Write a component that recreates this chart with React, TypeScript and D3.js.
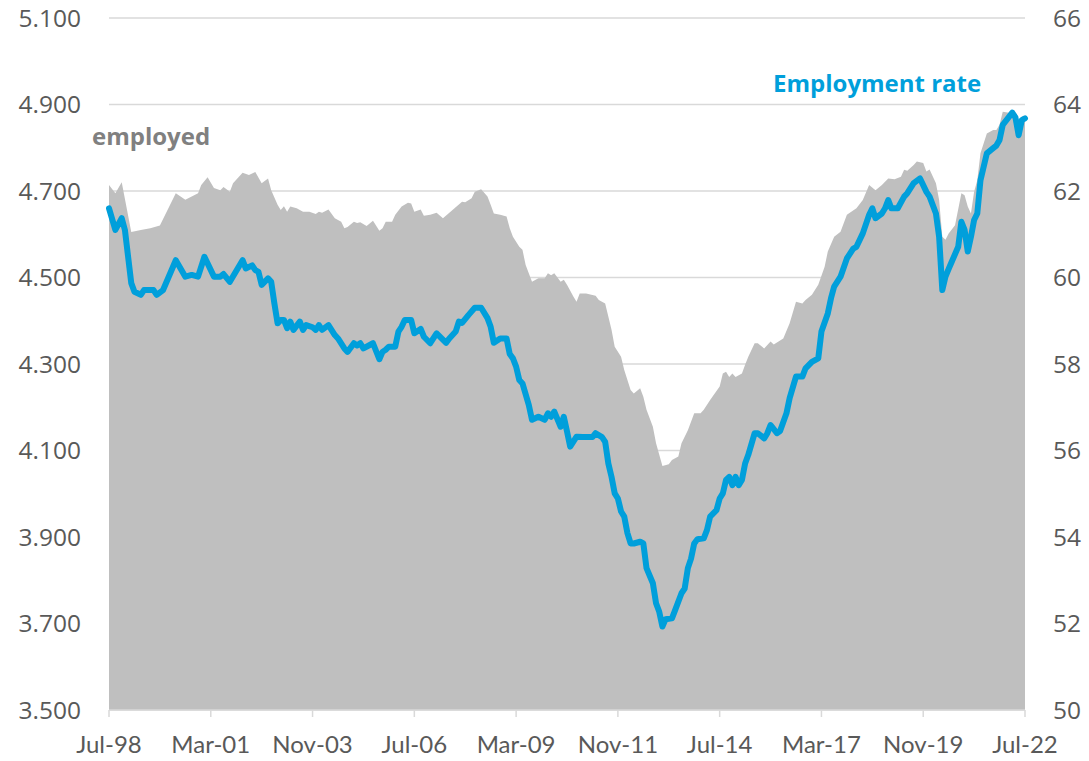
import React from "react";
import * as d3 from "d3";

// Month offsets from Jul-1998 (0) to Jul-2022 (288)
const employedMonths = [0,2,4,7,10,13,16,21,24,28,29,31,33,35,36,38,39,42,44,46,48,50,51,53,54,55,56,57,59,61,63,65,66,67,69,71,73,74,75,77,78,79,81,83,85,86,87,89,90,92,94,95,96,98,99,101,103,105,108,111,112,114,115,117,119,120,121,123,125,126,127,129,130,131,133,135,137,138,139,140,142,143,144,146,147,148,150,153,154,156,158,159,161,162,164,165,167,168,169,171,172,174,176,177,179,180,182,184,186,187,189,192,193,194,195,196,197,199,200,201,203,204,206,208,209,212,214,216,218,219,221,223,225,226,228,230,232,235,237,239,241,243,245,247,249,250,251,253,254,256,257,258,260,261,262,263,264,266,268,269,270,271,272,273,274,276,278,279,280,281,283,285,286,287,288];
const employedValues = [4.714,4.695,4.72,4.605,4.61,4.614,4.62,4.695,4.68,4.695,4.714,4.732,4.707,4.702,4.709,4.698,4.718,4.742,4.737,4.744,4.718,4.729,4.702,4.668,4.656,4.665,4.652,4.664,4.66,4.652,4.652,4.647,4.652,4.65,4.657,4.637,4.629,4.614,4.617,4.629,4.626,4.628,4.619,4.631,4.608,4.614,4.629,4.629,4.645,4.664,4.673,4.671,4.652,4.657,4.643,4.645,4.65,4.637,4.656,4.675,4.674,4.683,4.698,4.704,4.687,4.668,4.648,4.645,4.641,4.614,4.594,4.571,4.564,4.529,4.49,4.498,4.498,4.51,4.505,4.51,4.49,4.495,4.483,4.456,4.444,4.463,4.463,4.458,4.448,4.44,4.379,4.34,4.317,4.286,4.24,4.232,4.244,4.224,4.194,4.155,4.117,4.064,4.068,4.078,4.086,4.117,4.147,4.186,4.186,4.194,4.217,4.248,4.278,4.282,4.27,4.278,4.27,4.278,4.298,4.317,4.348,4.348,4.336,4.352,4.345,4.359,4.394,4.444,4.44,4.448,4.46,4.483,4.525,4.56,4.594,4.606,4.645,4.66,4.679,4.714,4.702,4.714,4.729,4.727,4.733,4.749,4.747,4.76,4.768,4.765,4.745,4.75,4.718,4.679,4.594,4.587,4.602,4.621,4.695,4.69,4.664,4.648,4.698,4.725,4.787,4.833,4.841,4.841,4.853,4.883,4.881,4.876,4.86,4.872,4.874];

const rateMonths = [0,2,4,5,7,8,10,11,14,15,17,21,24,26,28,30,33,35,36,38,42,43,45,46,47,48,50,51,52,53,54,55,56,57,58,60,61,62,64,65,66,67,69,71,72,74,75,77,78,79,80,83,85,86,87,88,90,91,92,93,95,96,98,99,101,103,106,107,109,110,111,113,115,117,119,120,121,123,125,126,127,128,129,130,132,133,135,137,138,139,140,142,143,144,145,147,149,152,153,155,156,157,158,159,160,161,162,163,164,165,167,168,169,171,172,173,174,175,177,178,180,181,182,183,184,185,187,188,189,191,192,193,194,195,196,197,198,199,200,201,203,204,206,207,208,210,211,213,214,216,218,219,221,223,224,226,227,228,230,232,234,235,237,239,240,241,243,244,245,246,248,250,251,253,255,257,258,260,261,262,263,264,265,267,268,269,270,271,272,273,274,276,278,279,280,281,284,285,286,287,288];
const rateValues = [61.6,61.1,61.37,61.1,59.87,59.67,59.6,59.71,59.71,59.6,59.71,60.4,60.02,60.06,60.02,60.48,60.02,60.02,60.08,59.9,60.4,60.21,60.28,60.17,60.13,59.83,59.98,59.9,59.4,58.94,59.02,59.02,58.83,58.98,58.79,58.98,58.79,58.9,58.85,58.79,58.9,58.79,58.9,58.67,58.59,58.36,58.28,58.48,58.43,58.48,58.36,58.48,58.11,58.28,58.33,58.4,58.4,58.75,58.86,59.02,59.02,58.71,58.81,58.63,58.48,58.71,58.49,58.59,58.75,58.98,58.95,59.13,59.3,59.3,59.06,58.86,58.49,58.59,58.59,58.23,58.13,57.94,57.63,57.55,57.05,56.71,56.78,56.71,56.86,56.78,56.9,56.55,56.78,56.44,56.09,56.32,56.31,56.31,56.4,56.31,56.2,55.7,55.39,55.01,54.89,54.59,54.47,54.09,53.85,53.85,53.89,53.85,53.28,52.93,52.47,52.27,51.93,52.1,52.12,52.31,52.7,52.81,53.28,53.5,53.85,53.95,53.97,54.16,54.47,54.62,54.89,55.01,55.32,55.39,55.2,55.39,55.2,55.32,55.7,55.9,56.4,56.4,56.28,56.4,56.59,56.4,56.45,56.86,57.21,57.71,57.71,57.9,58.05,58.13,58.75,59.17,59.52,59.79,60.02,60.44,60.67,60.71,61.02,61.45,61.6,61.37,61.48,61.6,61.79,61.6,61.6,61.87,61.95,62.18,62.29,61.98,61.87,61.48,60.94,59.71,60.02,60.2,60.37,60.71,61.29,61.1,60.6,60.94,61.33,61.48,62.25,62.87,62.99,63.05,63.18,63.53,63.81,63.7,63.29,63.64,63.68];

const xTickLabels = ["Jul-98","Mar-01","Nov-03","Jul-06","Mar-09","Nov-11","Jul-14","Mar-17","Nov-19","Jul-22"];
const xTickMonths = [0,32,64,96,128,160,192,224,256,288];
const leftTicks = [3.5,3.7,3.9,4.1,4.3,4.5,4.7,4.9,5.1];
const rightTicks = [50,52,54,56,58,60,62,64,66];

const W = 1089, H = 761;
const X0 = 109, X1 = 1025, Y0 = 710, Y1 = 18;

export default function App() {
  const x = d3.scaleLinear().domain([0, 288]).range([X0, X1]);
  const yL = d3.scaleLinear().domain([3.5, 5.1]).range([Y0, Y1]);
  const yR = d3.scaleLinear().domain([50, 66]).range([Y0, Y1]);

  const empData = employedMonths.map((m, i) => ({ m, v: employedValues[i] }));
  const rateData = rateMonths.map((m, i) => ({ m, v: rateValues[i] }));

  const area = d3.area<{ m: number; v: number }>()
    .x(d => x(d.m)).y0(yL(3.5)).y1(d => yL(d.v));
  const line = d3.line<{ m: number; v: number }>()
    .x(d => x(d.m)).y(d => yR(d.v));

  const tickFont = "'Open Sans', sans-serif";
  return (
    <svg width={W} height={H} style={{ position: "absolute", left: 0, top: 0, background: "#fff" }}>
      {leftTicks.map(t => (
        <line key={"g" + t} x1={X0} x2={X1} y1={yL(t)} y2={yL(t)} stroke="#d9d9d9" strokeWidth={1.5} />
      ))}
      <path d={area(empData) || ""} fill="#bfbfbf" />
      <line x1={X0} x2={X1} y1={Y0} y2={Y0} stroke="#d9d9d9" strokeWidth={1.5} />
      {xTickMonths.map(m => (
        <line key={"t" + m} x1={x(m)} x2={x(m)} y1={Y0} y2={Y0 + 7} stroke="#d9d9d9" strokeWidth={1.5} />
      ))}
      <path d={line(rateData) || ""} fill="none" stroke="#009fdb" strokeWidth={6} strokeLinejoin="round" strokeLinecap="round" />
      {leftTicks.map(t => (
        <text key={"l" + t} x={81} y={yL(t)} dy="0.35em" textAnchor="end" fontFamily={tickFont} fontSize={24.5} fill="#595959">
          {d3.format(".3f")(t)}
        </text>
      ))}
      {rightTicks.map(t => (
        <text key={"r" + t} x={1053} y={yR(t)} dy="0.35em" textAnchor="start" fontFamily={tickFont} fontSize={24.5} fill="#595959">
          {t}
        </text>
      ))}
      {xTickMonths.map((m, i) => (
        <text key={"x" + m} x={x(m)} y={745} dy="0.35em" textAnchor="middle" fontFamily="Lato, sans-serif" fontSize={24} fill="#595959">
          {xTickLabels[i]}
        </text>
      ))}
      <text x={92} y={137} dy="0.35em" fontFamily={tickFont} fontWeight="bold" fontSize={24} fill="#808080">employed</text>
      <text x={773} y={84} dy="0.35em" fontFamily={tickFont} fontWeight="bold" fontSize={24} fill="#009fdb">Employment rate</text>
    </svg>
  );
}
